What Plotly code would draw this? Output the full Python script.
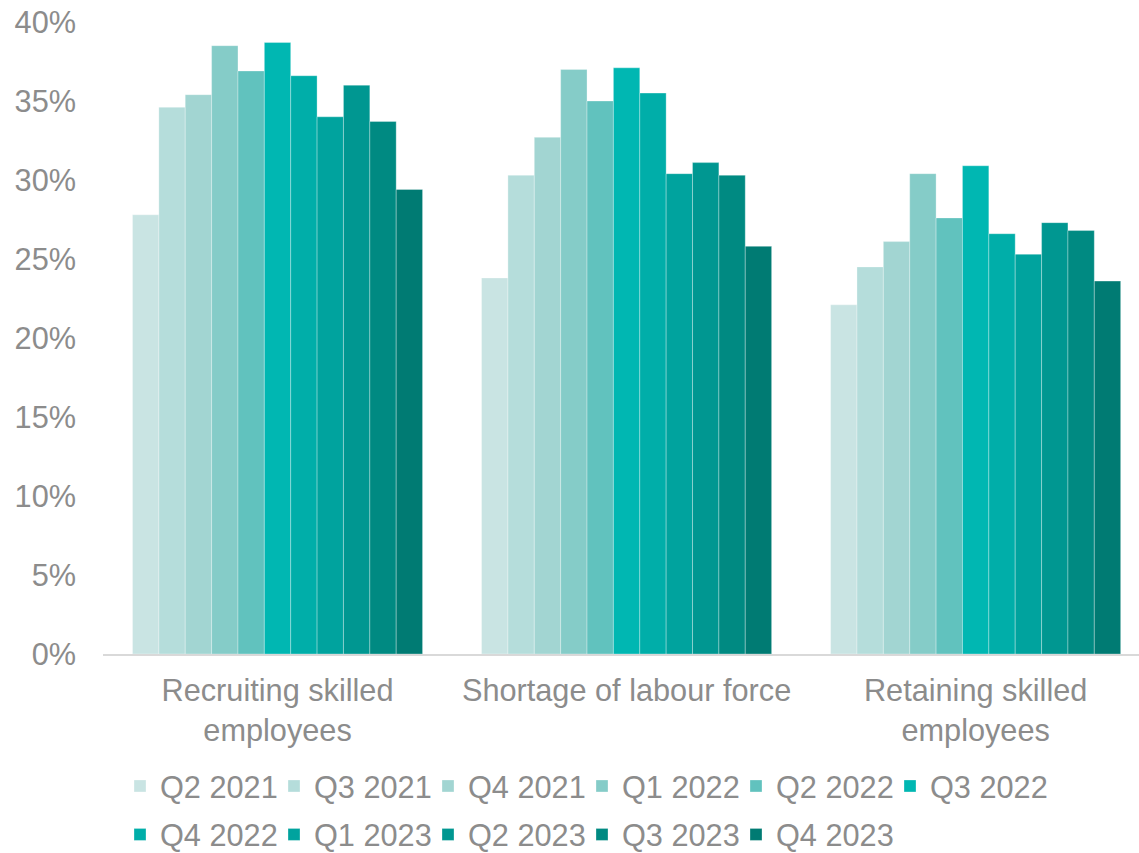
import plotly.graph_objects as go

# Survey categories (x axis)
categories = [
    "Recruiting skilled<br>employees",
    "Shortage of labour force",
    "Retaining skilled<br>employees",
]

# Quarters (series)
quarters = ["Q2 2021", "Q3 2021", "Q4 2021", "Q1 2022", "Q2 2022", "Q3 2022",
            "Q4 2022", "Q1 2023", "Q2 2023", "Q3 2023", "Q4 2023"]

# Share of respondents (%) per category, one list per quarter
q2_2021 = [27.8, 23.8, 22.1]
q3_2021 = [34.6, 30.3, 24.5]
q4_2021 = [35.4, 32.7, 26.1]
q1_2022 = [38.5, 37.0, 30.4]
q2_2022 = [36.9, 35.0, 27.6]
q3_2022 = [38.7, 37.1, 30.9]
q4_2022 = [36.6, 35.5, 26.6]
q1_2023 = [34.0, 30.4, 25.3]
q2_2023 = [36.0, 31.1, 27.3]
q3_2023 = [33.7, 30.3, 26.8]
q4_2023 = [29.4, 25.8, 23.6]

series = [q2_2021, q3_2021, q4_2021, q1_2022, q2_2022, q3_2022,
          q4_2022, q1_2023, q2_2023, q3_2023, q4_2023]

colors = ["#C9E4E3", "#B5DDDB", "#A2D5D2", "#85CCC8", "#61C2BE", "#00B7B2",
          "#00AEA9", "#00A39E", "#009791", "#008A82", "#007B73"]

FONT = "Arial, 'Liberation Sans', sans-serif"
GREY = "#8C8C8C"
FS = 30.7

# legend: first six quarters on the top row, the rest on the row below
row_break = 6
fig = go.Figure()
for i, (name, vals, col) in enumerate(zip(quarters, series, colors)):
    last_in_row = (i == row_break - 1) or (i == len(quarters) - 1)
    fig.add_trace(go.Bar(
        x=categories,
        y=vals,
        name=name,
        marker=dict(color=col, line=dict(color="rgba(255,255,255,0.3)", width=1)),
        legend="legend" if i < row_break else "legend2",
        legendwidth=130 if last_in_row else None,
    ))

W, H = 1139, 853
legend_common = dict(
    orientation="h",
    xref="container", yref="container",
    xanchor="left",
    font=dict(family=FONT, size=FS, color=GREY),
    entrywidth=109, entrywidthmode="pixels",
    bgcolor="rgba(0,0,0,0)", borderwidth=0,
    itemclick=False, itemdoubleclick=False,
)

fig.update_layout(
    width=W, height=H,
    barmode="group",
    bargap=0.169,
    bargroupgap=0,
    plot_bgcolor="white",
    paper_bgcolor="white",
    margin=dict(l=103, r=0, t=22, b=199),
    font=dict(family=FONT, size=FS, color=GREY),
    showlegend=True,
    legend=dict(legend_common, x=120 / W, y=1 - 786 / H, yanchor="middle"),
    legend2=dict(legend_common, x=120 / W, y=1 - 808 / H, yanchor="top"),
    xaxis=dict(
        type="category",
        range=[-0.5, 2.468],
        showline=True, linecolor="#D9D9D9", linewidth=2,
        showgrid=False, ticks="",
        tickfont=dict(family=FONT, size=FS, color=GREY),
        ticklabelstandoff=8,
    ),
    yaxis=dict(
        range=[0, 40],
        dtick=5,
        ticksuffix="%",
        showgrid=False, zeroline=False, showline=False, ticks="",
        tickfont=dict(family=FONT, size=FS, color=GREY),
        ticklabelstandoff=26,
    ),
)

fig.write_html("out.html")
